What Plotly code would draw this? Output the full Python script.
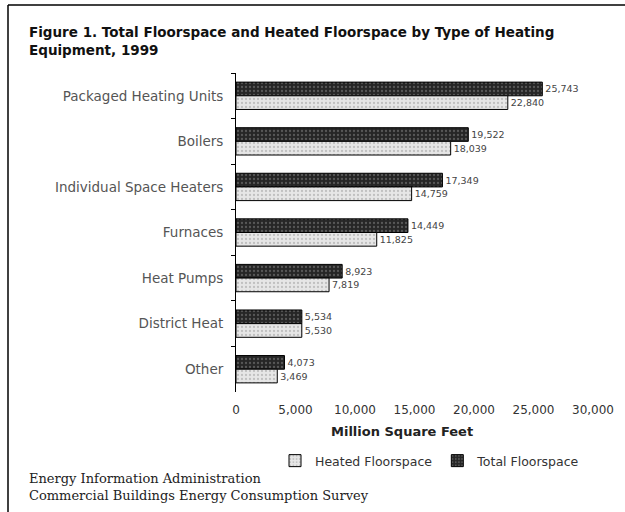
import plotly.graph_objects as go

categories = ["Packaged Heating Units", "Boilers", "Individual Space Heaters",
              "Furnaces", "Heat Pumps", "District Heat", "Other"]
total_floorspace = [25743, 19522, 17349, 14449, 8923, 5534, 4073]
heated_floorspace = [22840, 18039, 14759, 11825, 7819, 5530, 3469]
tick_values = [0, 5000, 10000, 15000, 20000, 25000, 30000]
tick_labels = ["0", "5,000", "10,000", "15,000", "20,000", "25,000", "30,000"]

W, H = 625, 512
L, R, T, B = 236, 593, 73, 392

def px(x):
    return (x - L) / (R - L)

def py(y):
    return (B - y) / (B - T)

FONT = "DejaVu Sans, Arial, sans-serif"
SERIF = "DejaVu Serif, Times New Roman, serif"

fig = go.Figure()
fig.add_trace(go.Bar(
    y=categories, x=total_floorspace, orientation="h", name="Total Floorspace",
    marker=dict(color="#262626", line=dict(color="#000", width=1),
                pattern=dict(shape=".", fgcolor="#8a8a8a", size=4, solidity=0.25)),
    text=[f"{v:,}" for v in total_floorspace], textposition="outside",
    textfont=dict(size=9.5, color="#444", family=FONT), cliponaxis=False,
    legendrank=2,
))
fig.add_trace(go.Bar(
    y=categories, x=heated_floorspace, orientation="h", name="Heated Floorspace",
    marker=dict(color="#e6e6e6", line=dict(color="#000", width=1),
                pattern=dict(shape=".", fgcolor="#9a9a9a", size=4, solidity=0.25)),
    text=[f"{v:,}" for v in heated_floorspace], textposition="outside",
    textfont=dict(size=9.5, color="#444", family=FONT), cliponaxis=False,
    legendrank=1,
))

fig.update_layout(
    width=W, height=H,
    margin=dict(l=L, r=W - R, t=T, b=H - B),
    paper_bgcolor="white", plot_bgcolor="white",
    barmode="group", bargap=0.40, bargroupgap=0.0,
    font=dict(family=FONT, color="#333"),
    showlegend=True,
    legend=dict(orientation="h", x=px(430), xanchor="center", y=py(461), yanchor="middle",
                font=dict(size=12.5, color="#333", family=FONT),
                itemwidth=30, tracegroupgap=0, bgcolor="rgba(0,0,0,0)"),
    xaxis=dict(range=[0, 30000], tickvals=tick_values, ticktext=tick_labels,
               showgrid=False, zeroline=False, showline=False, ticks="",
               ticklabelstandoff=9,
               tickfont=dict(size=12, color="#333", family=FONT)),
    yaxis=dict(autorange="reversed", showline=True, linecolor="#000", linewidth=1,
               ticks="outside", ticklen=4, tickcolor="#000", tickson="boundaries",
               showgrid=False, ticklabelstandoff=9,
               tickfont=dict(size=13.5, color="#555", family=FONT)),
)

annotations = [
    dict(x=px(27), y=py(22), xref="paper", yref="paper", xanchor="left", yanchor="top",
         align="left", showarrow=False,
         text="<b>Figure 1. Total Floorspace and Heated Floorspace by Type of Heating<br>Equipment, 1999</b>",
         font=dict(size=13.5, color="#111", family=FONT)),
    dict(x=px(402), y=py(431), xref="paper", yref="paper", xanchor="center", yanchor="middle",
         showarrow=False, text="<b>Million Square Feet</b>",
         font=dict(size=13, color="#222", family=FONT)),
    dict(x=px(27), y=py(478), xref="paper", yref="paper", xanchor="left", yanchor="middle",
         showarrow=False, text="Energy Information Administration",
         font=dict(size=13, color="#222", family=SERIF)),
    dict(x=px(27), y=py(495), xref="paper", yref="paper", xanchor="left", yanchor="middle",
         showarrow=False, text="Commercial Buildings Energy Consumption Survey",
         font=dict(size=13, color="#222", family=SERIF)),
]
fig.update_layout(annotations=annotations)

fig.add_shape(type="line", xref="paper", yref="paper", x0=px(8), x1=px(625), y0=py(5), y1=py(5),
              line=dict(color="#000", width=1.5))
fig.add_shape(type="line", xref="paper", yref="paper", x0=px(8), x1=px(8), y0=py(5), y1=py(512),
              line=dict(color="#000", width=1.5))

fig.write_html("out.html", config={"displayModeBar": False},
               post_script="document.body.style.margin='0';")
